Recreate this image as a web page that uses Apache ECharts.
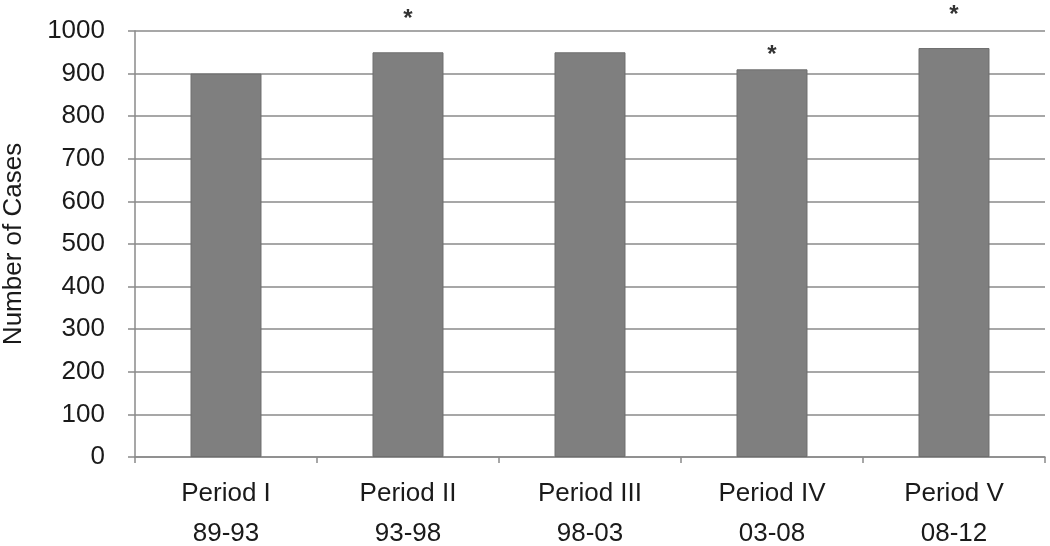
<!DOCTYPE html>
<html>
<head>
<meta charset="utf-8">
<script src="https://cdn.jsdelivr.net/npm/echarts@6/dist/echarts.min.js"></script>
<style>
  html, body { margin: 0; padding: 0; background: #fff; }
  #chart { width: 1050px; height: 546px; }
</style>
</head>
<body>
<div id="chart"></div>
<script>
const periods = ['Period I\n89-93', 'Period II\n93-98', 'Period III\n98-03', 'Period IV\n03-08', 'Period V\n08-12'];
const cases = [900, 950, 950, 910, 960];
const marks = ['', '*', '', '*', '*'];
const markGap = [0, 21, 0, 2, 21];

const chart = echarts.init(document.getElementById('chart'));
const font = '"Liberation Sans", Arial, sans-serif';

chart.setOption({
  animation: false,
  grid: { left: 135, right: 5, top: 31, bottom: 89, outerBoundsMode: 'none', containLabel: false },
  xAxis: {
    type: 'category',
    data: periods,
    axisLine: { lineStyle: { color: '#8a8a8a', width: 1.5 } },
    axisTick: { show: true, length: 6, lineStyle: { color: '#8a8a8a', width: 1.5 } },
    axisLabel: { color: '#1a1a1a', fontSize: 26, fontFamily: font, lineHeight: 40, margin: 17 }
  },
  yAxis: {
    type: 'value',
    min: 0, max: 1000, interval: 100,
    name: 'Number of Cases',
    nameLocation: 'middle',
    nameGap: 108,
    nameTextStyle: { color: '#1a1a1a', fontSize: 26, fontFamily: font },
    axisLine: { show: true, lineStyle: { color: '#8a8a8a', width: 1.5 } },
    axisTick: { show: true, length: 7, lineStyle: { color: '#8a8a8a', width: 1.5 } },
    axisLabel: { color: '#1a1a1a', fontSize: 26, fontFamily: font, margin: 30, formatter: v => String(v) },
    splitLine: { lineStyle: { color: '#8a8a8a', width: 1.5 } }
  },
  series: [{
    type: 'bar',
    barWidth: '39%',
    data: cases.map((v, i) => ({
      value: v,
      label: {
        show: marks[i] !== '',
        formatter: marks[i],
        position: 'top',
        distance: markGap[i],
        color: '#333',
        fontSize: 24,
        fontWeight: 'bold',
        fontFamily: font
      }
    })),
    itemStyle: { color: '#7f7f7f', borderColor: '#6e6e6e', borderWidth: 1 }
  }]
});
</script>
</body>
</html>
